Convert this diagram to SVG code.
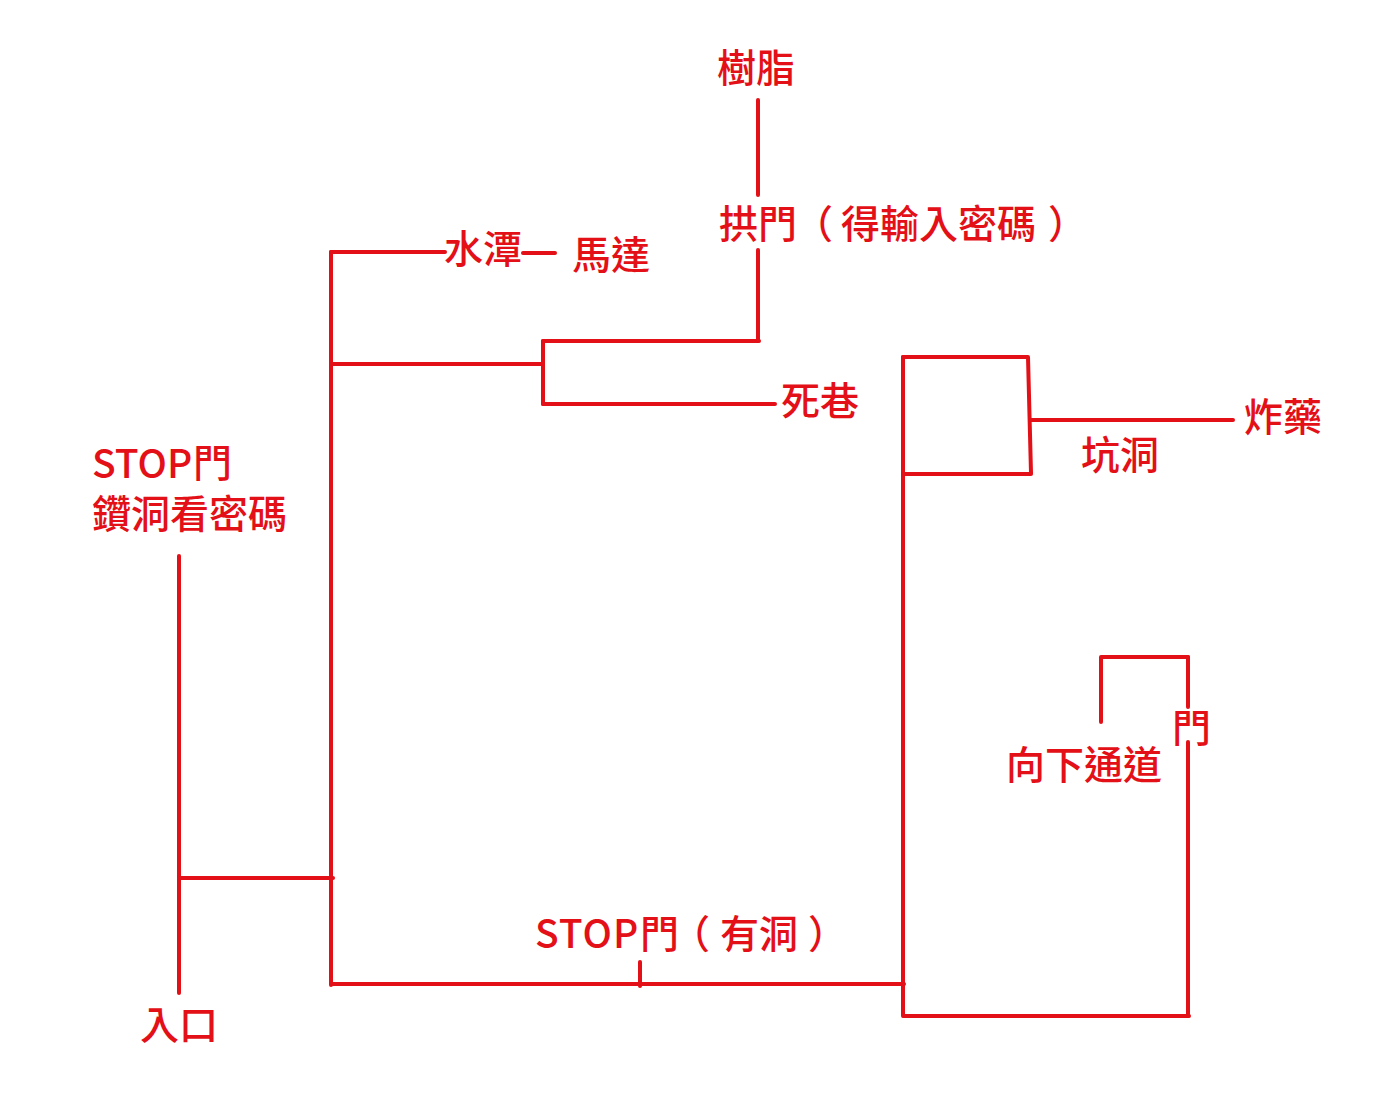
<svg xmlns="http://www.w3.org/2000/svg" width="1400" height="1100" viewBox="0 0 1400 1100">
<style>
.ln{fill:none;stroke:#e31018;stroke-width:4;stroke-linecap:round;stroke-linejoin:round}
.t{font-family:"Noto Sans CJK TC","Noto Sans CJK SC",sans-serif;font-size:39px;font-weight:500;fill:#e31018;dominant-baseline:central}
</style>
<rect width="1400" height="1100" fill="#ffffff"/>
<g id="connectors">
<path class="ln" d="M179,556 V993"/>
<path class="ln" d="M179,878 H333"/>
<path class="ln" d="M331,252 V985"/>
<path class="ln" d="M331,252 H445"/>
<path class="ln" d="M523,253 H555"/>
<path class="ln" d="M333,364 H543"/>
<path class="ln" d="M543,341 V404"/>
<path class="ln" d="M543,341 H759"/>
<path class="ln" d="M758,100 V195"/>
<path class="ln" d="M758,250 V341"/>
<path class="ln" d="M543,404 H775"/>
<path class="ln" d="M333,984 H904"/>
<path class="ln" d="M640,962 V986"/>
<path class="ln" d="M903,357 V1016"/>
<path class="ln" d="M903,357 H1028 L1031,473"/>
<path class="ln" d="M903,474 H1031"/>
<path class="ln" d="M1031,420 H1233"/>
<path class="ln" d="M904,1016 H1189"/>
<path class="ln" d="M1188,657 V707"/>
<path class="ln" d="M1188,742 V1016"/>
<path class="ln" d="M1101,722 V657 H1188"/>
</g>
<g id="n-resin"><text class="t" x="717" y="65">樹脂</text></g>
<g id="n-archdoor"><text class="t" x="719" y="221">拱門<tspan dx="-3">（</tspan><tspan x="841">得輸入密碼</tspan><tspan x="1048">）</tspan></text></g>
<g id="n-pool"><text class="t" x="444" y="246">水潭</text></g>
<g id="n-motor"><text class="t" x="572" y="252">馬達</text></g>
<g id="n-deadend"><text class="t" x="781" y="398">死巷</text></g>
<g id="n-explosive"><text class="t" x="1244" y="414">炸藥</text></g>
<g id="n-pit"><text class="t" x="1081" y="452">坑洞</text></g>
<g id="n-stopdoor1"><text class="t" x="92" y="461">STOP<tspan x="193" y="460">門</tspan><tspan x="92" y="511">鑽洞看密碼</tspan></text></g>
<g id="n-down"><text class="t" x="1006" y="762">向下通道</text></g>
<g id="n-door"><text class="t" x="1172" y="725">門</text></g>
<g id="n-stopdoor2"><text class="t" x="535" y="931"><tspan letter-spacing="1">STOP</tspan><tspan x="640">門</tspan><tspan dx="-8">（</tspan><tspan x="720">有洞</tspan><tspan x="808">）</tspan></text></g>
<g id="n-entrance"><text class="t" x="140" y="1022">入口</text></g>
</svg>
